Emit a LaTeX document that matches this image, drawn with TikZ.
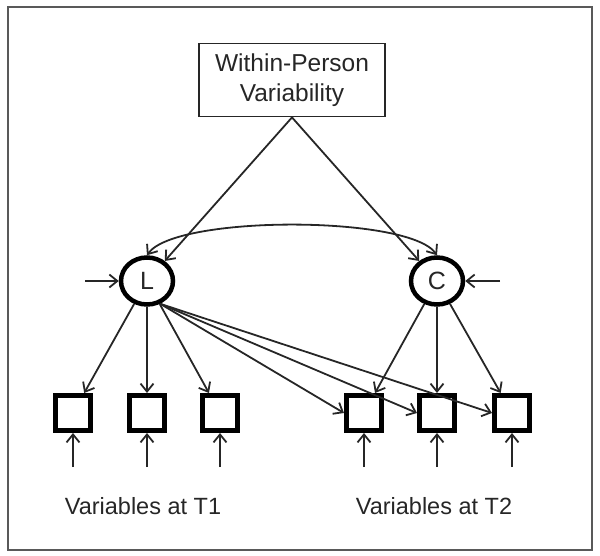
\documentclass[tikz,border=0pt]{standalone}
\usepackage{fontspec}
\setmainfont{Liberation Sans}
\usetikzlibrary{arrows.meta,shapes.geometric}
\definecolor{ink}{HTML}{262626}
\tikzset{
  lat/.style={draw=black,ellipse,line width=4.5pt,minimum width=52pt,minimum height=47pt,inner sep=0pt,font=\fontsize{25}{28}\selectfont,text=ink},
  obs/.style={draw=black,rectangle,line width=5pt,minimum size=35pt,inner sep=0pt},
  conn/.style={draw=ink,line width=1.8pt,-{Straight Barb[length=8pt,width=13pt]}},
  lab/.style={font=\fontsize{23.5}{28}\selectfont,text=ink}
}
\begin{document}
\begin{tikzpicture}[x=1pt,y=-1pt]
\useasboundingbox (0,0) rectangle (600,556);
\draw[draw=black!65,line width=2pt] (8,7) rectangle (592,550);
\node[draw=ink,line width=1.8pt,minimum width=186pt,minimum height=73pt,align=center,font=\fontsize{24.5}{30}\selectfont,text=ink,inner sep=0pt] (wpv) at (292,80) {Within-Person\\Variability};
\node[lat] (L) at (147,281) {L};
\node[lat] (C) at (437,281) {C};
\node[obs] (b1) at (73,413) {};
\node[obs] (b2) at (147,413) {};
\node[obs] (b3) at (220,413) {};
\node[obs] (b4) at (364,413) {};
\node[obs] (b5) at (437,413) {};
\node[obs] (b6) at (512,413) {};
\coordinate (eL) at (85,281);
\coordinate (eC) at (500,281);
\coordinate (e1) at (73,467);
\coordinate (e2) at (147,467);
\coordinate (e3) at (220,467);
\coordinate (e4) at (364,467);
\coordinate (e5) at (437,467);
\coordinate (e6) at (512,467);
\path[conn] (wpv.south) -- (L);
\path[conn] (wpv.south) -- (C);
\path[draw=ink,line width=1.8pt,{Straight Barb[length=8pt,width=13pt]}-{Straight Barb[length=8pt,width=13pt]}] (L.north) .. controls (175,215) and (409,215) .. (C.north);
\path[conn] (eL) -- (L);
\path[conn] (eC) -- (C);
\path[conn] (L) -- (b1);
\path[conn] (L) -- (b2);
\path[conn] (L) -- (b3);
\path[conn] (L.-60) -- (b4.west);
\path[conn] (L.-60) -- (b5.west);
\path[conn] (L.-60) -- (b6.west);
\path[conn] (C) -- (b4);
\path[conn] (C) -- (b5);
\path[conn] (C) -- (b6);
\path[conn] (e1) -- (b1);
\path[conn] (e2) -- (b2);
\path[conn] (e3) -- (b3);
\path[conn] (e4) -- (b4);
\path[conn] (e5) -- (b5);
\path[conn] (e6) -- (b6);
\node[lab] (t1) at (143,506) {Variables at T1};
\node[lab] (t2) at (434,506) {Variables at T2};
\end{tikzpicture}
\end{document}
